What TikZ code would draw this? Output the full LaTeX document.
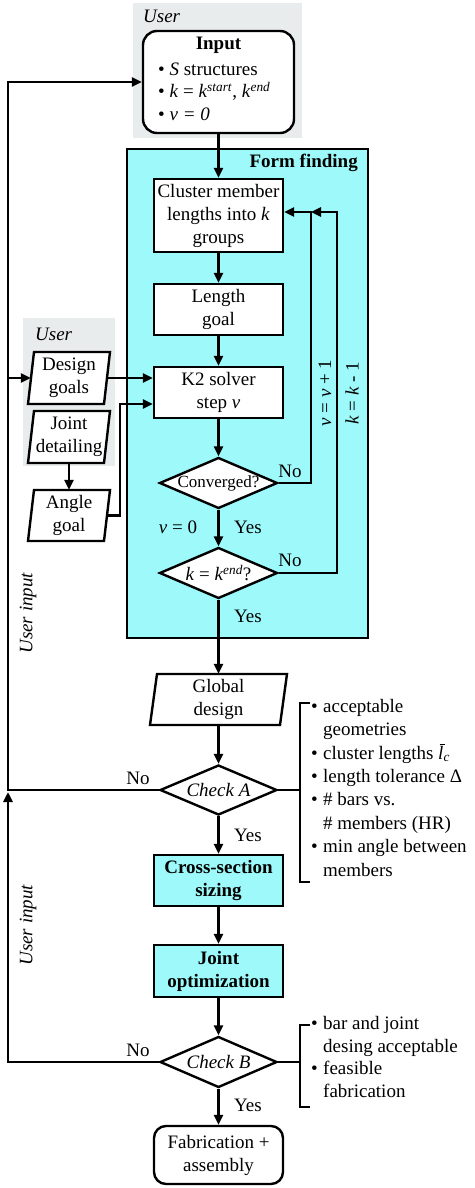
\documentclass[tikz,border=0pt]{standalone}
\usepackage{fontspec}
\setmainfont{Liberation Serif}
\usetikzlibrary{arrows.meta,shapes.geometric}
\definecolor{ffcyan}{RGB}{158,250,250}
\definecolor{usergray}{RGB}{232,236,236}
\newcommand\bl{\makebox[12pt][l]{•}}
\newcommand\ind{\hspace*{12pt}}
\newcommand\lbar{\textit{\makebox[0pt][l]{\raisebox{14.5pt}{\kern1.5pt\rule{5.5pt}{1pt}}}l}}
\newcommand\para[7]{%
  \draw[line width=2.4pt, fill=white] ({#2-#4/2+#6},{#3-#5/2}) -- ({#2+#4/2},{#3-#5/2}) -- ({#2+#4/2-#6},{#3+#5/2}) -- ({#2-#4/2},{#3+#5/2}) -- cycle;
  \node[minimum width=#4pt, minimum height=#5pt, align=center] (#1) at (#2,#3) {#7};}
\begin{document}
\begin{tikzpicture}[x=1pt,y=-1pt,
  lw/.style={line width=2.4pt},
  every node/.style={font=\fontsize{19}{23}\selectfont, inner sep=0pt},
  box/.style={draw, lw, fill=white, minimum width=129pt, align=center},
  cbox/.style={box, fill=ffcyan},
  diam/.style={diamond, draw, lw, fill=white, minimum width=118pt, minimum height=51pt},
  arr/.style={lw, -{Triangle[length=10pt,width=9pt]}},
  ln/.style={lw},
  crit/.style={anchor=north west, align=left, font=\fontsize{19}{23.4}\selectfont}
]
\useasboundingbox (0,0) rectangle (474,1188);

% top user area
\node[fill=usergray, minimum width=169pt, minimum height=135pt] (ug1) at (217.5,70.5) {};
\node[anchor=west] (ug1t) at (143,16) {\textit{User}};
\node[draw, lw, fill=white, rounded corners=14pt, minimum width=151pt, minimum height=102pt] (input) at (218.5,82) {};
\node (inputh) at (218.5,45) {\textbf{Input}};
\node[anchor=west] (in1) at (158,69) {• \textit{S} structures};
\node[anchor=west] (in2) at (158,91) {• \textit{k} = \textit{k}\textsuperscript{\textit{start}}, \textit{k}\textsuperscript{\textit{end}}};
\node[anchor=west] (in3) at (158,114) {• \textit{ν = 0}};

% form finding
\node[draw, lw, fill=ffcyan, minimum width=241pt, minimum height=489pt] (ff) at (247.5,393.5) {};
\node[anchor=east] (fft) at (358,163) {\textbf{Form finding}};
\node[box, minimum height=73pt] (cluster) at (218.5,215.5) {Cluster member\\lengths into \textit{k}\\groups};
\node[box, minimum height=51pt] (lgoal) at (218.5,309.5) {Length\\goal};
\node[box, minimum height=51pt] (k2) at (218.5,392.5) {K2 solver\\step \textit{ν}};
\node[diam, label={[font=\fontsize{17}{20}\selectfont]center:Converged?}] (conv) at (218.5,483) {};
\node[diam, label={center:\textit{k} = \textit{k}\textsuperscript{\textit{end}}?}] (kend) at (218.5,573) {};

% left user area
\node[fill=usergray, minimum width=92pt, minimum height=148pt] (ug2) at (69,392) {};
\node[anchor=west] (ug2t) at (35,334) {\textit{User}};
\para{design}{69}{378}{82}{52}{6}{Design\\goals}
\para{jdet}{69}{437}{82}{52}{6}{Joint\\detailing}
\para{angle}{69}{515.5}{82}{51}{6}{Angle\\goal}

% lower chain
\para{global}{218.5}{699.5}{137}{51}{7}{Global\\design}
\node[diam, minimum width=117pt, minimum height=50pt, label={center:\textit{Check A}}] (checkA) at (218.5,790) {};
\node[cbox, minimum height=51pt] (cross) at (218.5,880.5) {\textbf{Cross-section}\\\textbf{sizing}};
\node[cbox, minimum height=52pt] (joint) at (218.5,971) {\textbf{Joint}\\\textbf{optimization}};
\node[diam, minimum width=117pt, minimum height=51pt, label={center:\textit{Check B}}] (checkB) at (218.5,1062) {};
\node[box, rounded corners=12pt, minimum height=58pt] (fab) at (218.5,1155) {Fabrication +\\assembly};

% coordinates
\coordinate (fb1) at (311,212);
\coordinate (fb2) at (337,212);
\coordinate (cA) at (8,790);
\coordinate (cIn) at (8,82);
\coordinate (cD) at (8,378);
\coordinate (cB) at (8,1062);
\coordinate (cBup) at (8,792);
\coordinate (ca1) at (120,515.5);
\coordinate (ca2) at (120,404);
\coordinate (bA) at (300,790);
\coordinate (bB) at (300,1062);

% main chain
\draw[arr] (input.south) -- (cluster.north);
\draw[arr] (cluster) -- (lgoal);
\draw[arr] (lgoal) -- (k2);
\draw[arr] (k2) -- (conv);
\draw[arr] (conv) -- (kend);
\draw[arr] (kend.south) -- (global.north);
\draw[arr] (conv.east) -| (fb1) -- (cluster.east |- fb1);
\draw[arr] (kend.east) -| (fb2) -- (fb1);
\draw[arr] (global.south) -- (checkA.north);
\draw[arr] (checkA) -- (cross);
\draw[arr] (cross) -- (joint);
\draw[arr] (joint) -- (checkB);
\draw[arr] (checkB) -- (fab);

% left side
\draw[arr] (checkA.west) -- (cA) -- (cIn) -- (input.west);
\draw[arr] (cD) -- ([xshift=3pt]design.west);
\draw[arr] ([xshift=-3pt]design.east) -- (k2.west |- design.east);
\draw[arr] ([xshift=-3pt]angle.east) -- (ca1) -- (ca2) -- (k2.west |- ca2);
\draw[arr] (jdet.south) -- (angle.north);
\draw[arr] (checkB.west) -- (cB) -- (cBup);

% brackets
\draw[ln] (checkA.east) -- (bA);
\draw[ln] (310,703) -- (300,703) -- (300,882) -- (310,882);
\draw[ln] (checkB.east) -- (bB);
\draw[ln] (310,1025) -- (300,1025) -- (300,1107) -- (310,1107);

% labels
\node (no1) at (290,471) {No};
\node (no2) at (290,560) {No};
\node[rotate=90] (vv) at (325,393) {\textit{ν} = \textit{ν} + 1};
\node[rotate=90] (kk) at (352,393) {\textit{k} = \textit{k} - 1};
\node (v0) at (178,527) {\textit{ν} = 0};
\node (yes1) at (248,527) {Yes};
\node (yes2) at (248,616) {Yes};
\node (noA) at (138,778) {No};
\node (noB) at (138,1050) {No};
\node (yesA) at (248,835) {Yes};
\node (yesB) at (248,1105) {Yes};
\node[rotate=90] (ui1) at (28,613) {\textit{User input}};
\node[rotate=90] (ui2) at (28,925) {\textit{User input}};

\node[crit] (critA) at (311,699) {\bl acceptable\\\ind geometries\\\bl cluster lengths \lbar\textsubscript{\textit{c}}\\\bl length tolerance Δ\\\bl \# bars vs.\\\ind \# members (HR)\\\bl min angle between\\\ind members};
\node[crit, font=\fontsize{19}{22.8}\selectfont] (critB) at (311,1016) {\bl bar and joint\\\ind desing acceptable\\\bl feasible\\\ind fabrication};
\end{tikzpicture}
\end{document}
